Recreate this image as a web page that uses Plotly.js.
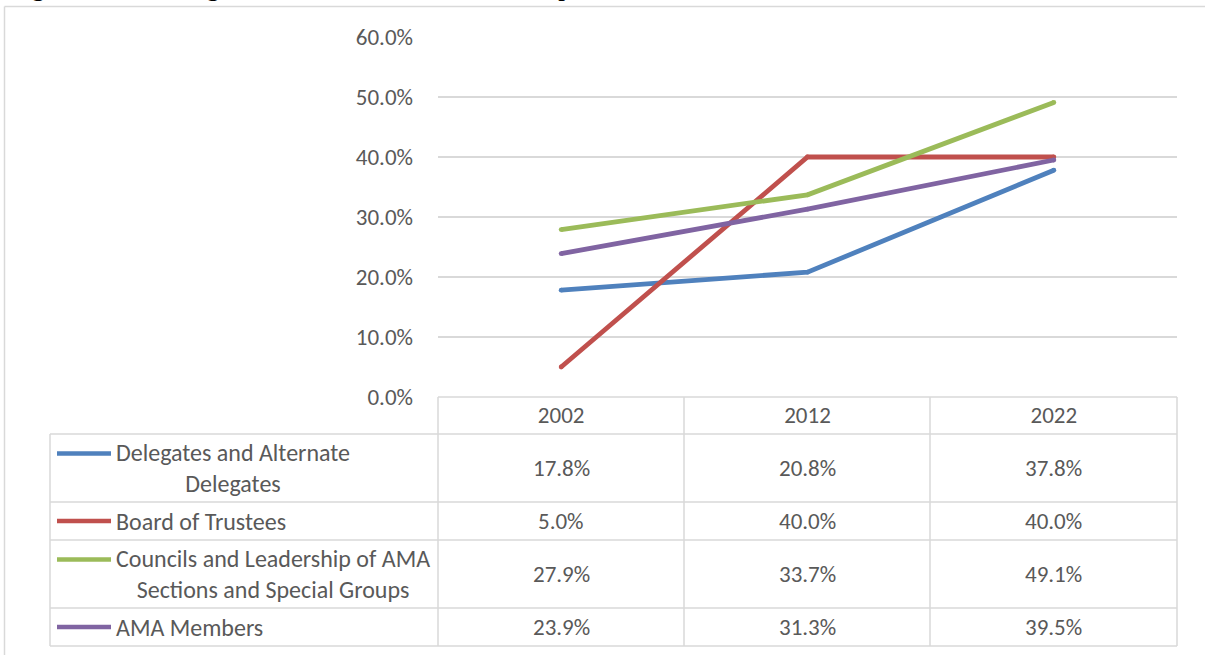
<!DOCTYPE html>
<html>
<head>
<meta charset="utf-8">
<script src="https://cdn.plot.ly/plotly-3.0.1.min.js"></script>
<style>
  html, body { margin: 0; padding: 0; background: #fff; }
  #chart { width: 1205px; height: 655px; }
</style>
</head>
<body>
<div id="chart"></div>
<script>
// ---- data ----
const years = ['2002', '2012', '2022'];
const seriesNames = [
  'Delegates and Alternate<br>Delegates',
  'Board of Trustees',
  'Councils and Leadership of AMA<br>Sections and Special Groups',
  'AMA Members'
];
const delegates = [0.178, 0.208, 0.378];
const boardOfTrustees = [0.050, 0.400, 0.400];
const councils = [0.279, 0.337, 0.491];
const amaMembers = [0.239, 0.313, 0.395];
const yTickValues = [0, 0.1, 0.2, 0.3, 0.4, 0.5, 0.6];
const captionText = 'Figure 1. Percentage of Women in AMA Leadership, 2002-2022';

const seriesValues = [delegates, boardOfTrustees, councils, amaMembers];
const seriesColors = ['#4F81BD', '#C0504D', '#9BBB59', '#8064A2'];

// ---- layout geometry (pixels) ----
const W = 1205, H = 655;
const plotL = 438, plotR = 1177, plotT = 37, plotB = 397;
const px = x => (x - plotL) / (plotR - plotL);
const py = y => (plotB - y) / (plotB - plotT);

const FONT = 'Carlito, Lato, sans-serif';
const FS = 23;
const TXT = '#595959';
const GRID = '#D9D9D9';

const tableLeft = 50, tableBottom = 646, headerBottom = 434;
const rowTops = [434, 502, 540, 608];
const rowBottoms = [502, 540, 608, 646];
const colEdges = [438, 684, 930, 1177];
const keyX0 = 57, keyX1 = 111, labelX = 114;

const traces = seriesValues.map((vals, i) => ({
  type: 'scatter',
  mode: 'lines+markers',
  x: years,
  y: vals,
  line: { color: seriesColors[i], width: 4.8 },
  marker: { color: seriesColors[i], size: 4.8 },
  hoverinfo: 'skip',
  cliponaxis: false
}));

const shapes = [];
const lineShape = (x0, y0, x1, y1, color, width) => ({
  type: 'line', xref: 'paper', yref: 'paper',
  x0: px(x0), x1: px(x1), y0: py(y0), y1: py(y1),
  line: { color: color, width: width }
});

// outer frame (top and left visible)
shapes.push(lineShape(4.5, 6.5, W + 5, 6.5, GRID, 1.5));
shapes.push(lineShape(4.5, 6.5, 4.5, H + 5, GRID, 1.5));

// table horizontal lines
shapes.push(lineShape(plotL, plotB, plotR, plotB, GRID, 1.5));
shapes.push(lineShape(tableLeft, headerBottom, plotR, headerBottom, GRID, 1.5));
rowBottoms.forEach(y => shapes.push(lineShape(tableLeft, y, plotR, y, GRID, 1.5)));
// table vertical lines
colEdges.forEach(x => shapes.push(lineShape(x, plotB, x, tableBottom, GRID, 1.5)));
shapes.push(lineShape(tableLeft, headerBottom, tableLeft, tableBottom, GRID, 1.5));

const annotations = [];
// legend keys, labels and values
seriesNames.forEach((name, i) => {
  const top = rowTops[i], bot = rowBottoms[i];
  const mid = (top + bot) / 2;
  const twoLine = name.indexOf('<br>') >= 0;
  const keyY = twoLine ? mid - 14.5 : mid;
  shapes.push({
    type: 'line', xref: 'paper', yref: 'paper',
    x0: px(keyX0), x1: px(keyX1), y0: py(keyY), y1: py(keyY),
    line: { color: seriesColors[i], width: 4.5 }
  });
  annotations.push({
    xref: 'paper', yref: 'paper', x: px(labelX), y: py(mid),
    xanchor: 'left', yanchor: 'middle', align: 'center',
    text: name, showarrow: false,
    font: { family: FONT, size: 24, color: TXT }
  });
  seriesValues[i].forEach((v, j) => {
    annotations.push({
      xref: 'x', yref: 'paper', x: j, y: py(mid),
      xanchor: 'center', yanchor: 'middle',
      text: (v * 100).toFixed(1) + '%', showarrow: false,
      font: { family: FONT, size: FS, color: TXT }
    });
  });
});

// caption (cut off at top of image, as in the source)
annotations.push({
  xref: 'paper', yref: 'paper', x: px(7), y: py(3),
  xanchor: 'left', yanchor: 'bottom',
  text: captionText, showarrow: false,
  font: { family: '"Liberation Serif", "Times New Roman", serif', size: 27, color: '#000' }
});

const layout = {
  width: W, height: H,
  margin: { l: plotL, r: W - plotR, t: plotT, b: H - plotB, pad: 0 },
  paper_bgcolor: '#fff', plot_bgcolor: '#fff',
  showlegend: false,
  hovermode: false,
  xaxis: {
    type: 'category',
    range: [-0.5, 2.5],
    showgrid: false, zeroline: false, showline: false,
    ticks: '', ticklabelstandoff: 2,
    tickfont: { family: FONT, size: FS, color: TXT },
    fixedrange: true
  },
  yaxis: {
    range: [0, 0.6],
    tickvals: yTickValues,
    tickformat: '.1%',
    showgrid: true, gridcolor: GRID, gridwidth: 1.5,
    zeroline: false, showline: false,
    ticks: '', ticklabelstandoff: 24,
    tickfont: { family: FONT, size: FS, color: TXT },
    fixedrange: true
  },
  shapes: shapes,
  annotations: annotations
};

Plotly.newPlot('chart', traces, layout, { staticPlot: true, displayModeBar: false });
</script>
</body>
</html>
